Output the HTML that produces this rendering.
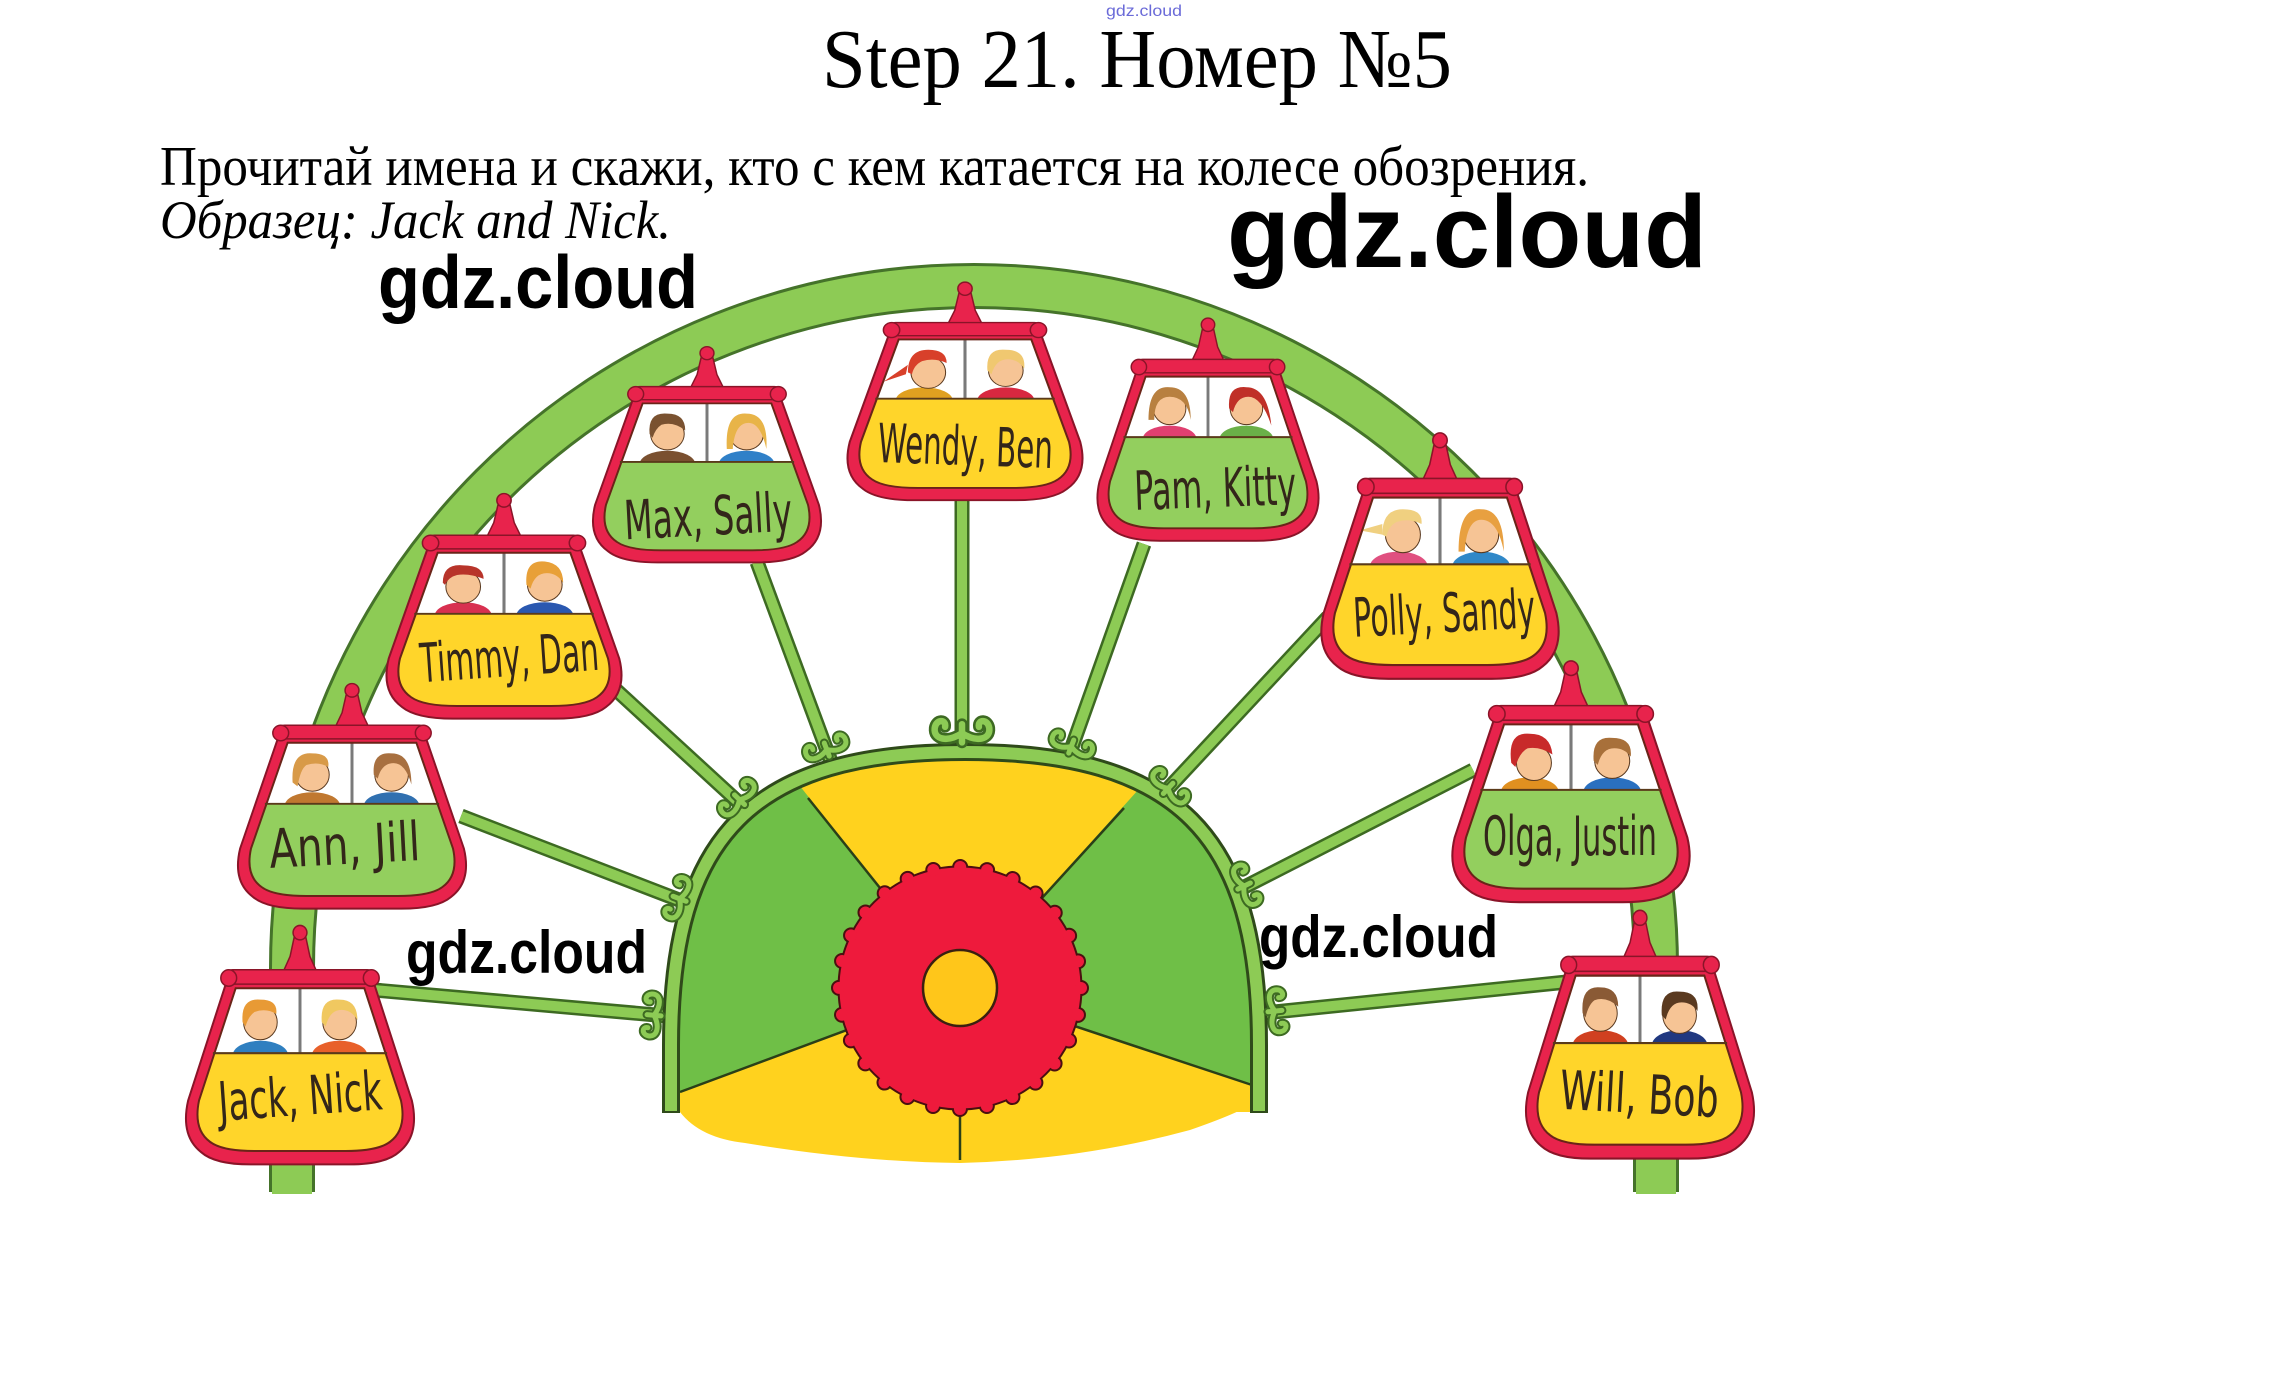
<!DOCTYPE html>
<html><head><meta charset="utf-8"><style>
html,body{margin:0;padding:0;background:#fff;}
svg{display:block;}
</style></head><body>
<svg width="2288" height="1396" viewBox="0 0 2288 1396" xmlns="http://www.w3.org/2000/svg">
<defs>
  <clipPath id="gin"><path d="M -65,9 L 65,9 L 102,118 Q 108,146 91,158 Q 79,167 46,167 L -46,167 Q -79,167 -91,158 Q -108,146 -102,118 Z"/></clipPath>
  <clipPath id="domeclip"><path d="M 671,1112 L 671,1045 C 671,835 753,752 965,752 C 1177,752 1259,835 1259,1045 L 1259,1112 Z"/></clipPath>
  <g id="scr" fill="none" stroke-linecap="round" stroke-linejoin="round">
    <path d="M0,-2 L0,-16 M -21,-13 C -22,-4 -11,-2 0,-9 C 11,-2 22,-4 21,-13 M -21,-13 C -20,-20 -12,-20 -13,-14 M 21,-13 C 20,-20 12,-20 13,-14" stroke="#3d6a22" stroke-width="9"/>
    <path d="M0,-2 L0,-16 M -21,-13 C -22,-4 -11,-2 0,-9 C 11,-2 22,-4 21,-13 M -21,-13 C -20,-20 -12,-20 -13,-14 M 21,-13 C 20,-20 12,-20 13,-14" stroke="#8dcb55" stroke-width="5"/>
  </g>
  <g id="gtop">
    <line x1="0" y1="9" x2="0" y2="72" stroke="#7a7a7a" stroke-width="3"/>
    <path d="M -65,9 L 65,9 L 102,118 Q 108,146 91,158 Q 79,167 46,167 L -46,167 Q -79,167 -91,158 Q -108,146 -102,118 Z" fill="none" stroke="#6a2418" stroke-width="2"/>
    <line x1="-88" y1="72" x2="88" y2="72" stroke="#5a3a1a" stroke-width="2"/>
    <path d="M -6,-40 L 6,-40 L 10,-22 L 17,-7 L -17,-7 L -10,-22 Z" fill="#e8234c" stroke="#8a1428" stroke-width="1.5"/>
    <circle cx="0" cy="-45" r="7" fill="#e8234c" stroke="#8a1428" stroke-width="1.5"/>
    <rect x="-74" y="-9" width="148" height="14" rx="6" fill="#e8234c" stroke="#8a1428" stroke-width="1.5"/>
    <circle cx="-72" cy="-1" r="8" fill="#e8234c" stroke="#8a1428" stroke-width="1.5"/>
    <circle cx="72" cy="-1" r="8" fill="#e8234c" stroke="#8a1428" stroke-width="1.5"/>
  </g>
  <path id="gout" d="M -74,2 L 74,2 L 113,118 Q 121,152 100,168 Q 86,180 50,180 L -50,180 Q -86,180 -100,168 Q -121,152 -113,118 Z"/>
</defs>

<rect width="2288" height="1396" fill="#fff"/>

<!-- arch -->
<path d="M 292,1192 L 292,968 A 682 682 0 0 1 1656,968 L 1656,1192" fill="none" stroke="#45732a" stroke-width="46"/>
<path d="M 292,1194 L 292,968 A 682 682 0 0 1 1656,968 L 1656,1194" fill="none" stroke="#8dcb55" stroke-width="40"/>

<!-- spokes -->
<g stroke-linecap="butt">
  <g stroke="#3d6a22" stroke-width="15">
    <line x1="374" y1="990" x2="690" y2="1018"/>
    <line x1="461" y1="816" x2="705" y2="910"/>
    <line x1="614" y1="688" x2="760" y2="822"/>
    <line x1="757" y1="562" x2="836" y2="775"/>
    <line x1="962" y1="495" x2="962" y2="770"/>
    <line x1="1144" y1="544" x2="1062" y2="775"/>
    <line x1="1328" y1="617" x2="1150" y2="808"/>
    <line x1="1473" y1="770" x2="1225" y2="897"/>
    <line x1="1567" y1="982" x2="1245" y2="1015"/>
  </g>
  <g stroke="#8dcb55" stroke-width="10">
    <line x1="374" y1="990" x2="690" y2="1018"/>
    <line x1="461" y1="816" x2="705" y2="910"/>
    <line x1="614" y1="688" x2="760" y2="822"/>
    <line x1="757" y1="562" x2="836" y2="775"/>
    <line x1="962" y1="495" x2="962" y2="770"/>
    <line x1="1144" y1="544" x2="1062" y2="775"/>
    <line x1="1328" y1="617" x2="1150" y2="808"/>
    <line x1="1473" y1="770" x2="1225" y2="897"/>
    <line x1="1567" y1="982" x2="1245" y2="1015"/>
  </g>
</g>

<!-- dome -->
<path d="M 960,988 L 680,1092 L 680,1112 Q 700,1138 745,1143 Q 860,1162 960,1163 Q 1080,1160 1190,1130 Q 1236,1114 1252,1104 L 1252,1085 Z" fill="#ffd21e"/>
<g clip-path="url(#domeclip)">
  <rect x="650" y="730" width="630" height="400" fill="#6fbf47"/>
  <polygon points="960,988 727,694 960,640 1210,710" fill="#ffd21e"/>
  <polygon points="960,988 640,1107 640,1130 1290,1130 1290,1098" fill="#ffd21e"/>
</g>
<g stroke="#2a3f18" stroke-width="2.5">
  <line x1="960" y1="988" x2="808" y2="798"/>
  <line x1="960" y1="988" x2="1124" y2="808"/>
  <line x1="960" y1="988" x2="680" y2="1092"/>
  <line x1="960" y1="988" x2="1252" y2="1085"/>
  <line x1="960" y1="1110" x2="960" y2="1160"/>
</g>
<path d="M 671,1113 L 671,1045 C 671,835 753,752 965,752 C 1177,752 1259,835 1259,1045 L 1259,1113" fill="none" stroke="#2f4a1a" stroke-width="18"/>
<path d="M 671,1111 L 671,1045 C 671,835 753,752 965,752 C 1177,752 1259,835 1259,1045 L 1259,1111" fill="none" stroke="#8dcb55" stroke-width="12"/>

<!-- gear -->
<circle cx="960" cy="988" r="121" fill="none" stroke="#4a1010" stroke-width="16" stroke-dasharray="0 27.15" stroke-linecap="round"/>
<circle cx="960" cy="988" r="121" fill="none" stroke="#4a1010" stroke-width="3"/>
<circle cx="960" cy="988" r="120.5" fill="#ee1a3c"/>
<circle cx="960" cy="988" r="121" fill="none" stroke="#ee1a3c" stroke-width="12" stroke-dasharray="0 27.15" stroke-linecap="round"/>
<ellipse cx="960" cy="988" rx="37" ry="38" fill="#ffc61a" stroke="#3a2010" stroke-width="2.5"/>

<!-- scrolls -->
<use href="#scr" transform="translate(663,1016) rotate(-85)"/>
<use href="#scr" transform="translate(688,902) rotate(-69)"/>
<use href="#scr" transform="translate(746,806) rotate(-46)"/>
<use href="#scr" transform="translate(830,758) rotate(-21)"/>
<use href="#scr" transform="translate(962,745) scale(1.3)"/>
<use href="#scr" transform="translate(1068,755) rotate(21)"/>
<use href="#scr" transform="translate(1162,795) rotate(43)"/>
<use href="#scr" transform="translate(1236,890) rotate(64)"/>
<use href="#scr" transform="translate(1266,1012) rotate(84)"/>

<!-- gondolas -->
<!-- 1 Jack Nick -->
<g transform="translate(300,979) scale(0.99,1.03)">
  <use href="#gout" fill="#e8234c" stroke="#8a1428" stroke-width="2"/>
  <g clip-path="url(#gin)">
    <rect x="-130" y="0" width="260" height="72" fill="#fff"/>
    <ellipse cx="-40" cy="74" rx="28" ry="14" fill="#2f7fc0"/>
    <circle cx="-40" cy="42" r="17" fill="#f6c495" stroke="#5a3a20" stroke-width="1"/>
    <path d="M -58,42 Q -60,18 -40,20 Q -22,20 -24,34 Q -34,28 -46,32 Q -52,36 -55,46 Z" fill="#e89a35"/>
    <ellipse cx="40" cy="74" rx="28" ry="14" fill="#e8602a"/>
    <circle cx="40" cy="42" r="17" fill="#f6c495" stroke="#5a3a20" stroke-width="1"/>
    <path d="M 22,42 Q 20,18 40,20 Q 58,20 58,40 Q 52,30 42,30 Q 30,30 26,46 Z" fill="#f0c860"/>
    <rect x="-130" y="72" width="260" height="120" fill="#ffd52a"/>
  </g>
  <use href="#gtop"/>
</g>
<!-- 2 Ann Jill -->
<g transform="translate(352,734) scale(0.99,0.97)">
  <use href="#gout" fill="#e8234c" stroke="#8a1428" stroke-width="2"/>
  <g clip-path="url(#gin)">
    <rect x="-130" y="0" width="260" height="72" fill="#fff"/>
    <ellipse cx="-40" cy="74" rx="28" ry="14" fill="#c07830"/>
    <circle cx="-40" cy="42" r="17" fill="#f6c495" stroke="#5a3a20" stroke-width="1"/>
    <path d="M -60,50 Q -62,18 -40,20 Q -22,20 -24,34 Q -34,28 -46,32 Q -52,36 -55,54 Z" fill="#d89a48"/>
    <ellipse cx="40" cy="74" rx="28" ry="14" fill="#3070b0"/>
    <circle cx="40" cy="42" r="17" fill="#f6c495" stroke="#5a3a20" stroke-width="1"/>
    <path d="M 22,42 Q 20,18 40,20 Q 60,20 60,52 Q 54,30 42,30 Q 30,30 26,46 Z" fill="#a87040"/>
    <rect x="-130" y="72" width="260" height="120" fill="#93cf5e"/>
  </g>
  <use href="#gtop"/>
</g>
<!-- 3 Timmy Dan -->
<g transform="translate(504,544) scale(1.02,0.97)">
  <use href="#gout" fill="#e8234c" stroke="#8a1428" stroke-width="2"/>
  <g clip-path="url(#gin)">
    <rect x="-130" y="0" width="260" height="72" fill="#fff"/>
    <ellipse cx="-40" cy="74" rx="28" ry="14" fill="#d83050"/>
    <circle cx="-40" cy="44" r="17" fill="#f6c495" stroke="#5a3a20" stroke-width="1"/>
    <path d="M -60,40 Q -60,20 -40,22 Q -20,22 -20,36 Q -34,30 -46,32 Q -54,34 -58,42 Z" fill="#b8342a"/>
    <ellipse cx="40" cy="74" rx="28" ry="14" fill="#2a58b0"/>
    <circle cx="40" cy="42" r="17" fill="#f6c495" stroke="#5a3a20" stroke-width="1"/>
    <path d="M 22,42 Q 20,16 40,18 Q 58,20 58,40 Q 52,30 42,30 Q 30,30 26,46 Z" fill="#e8a038"/>
    <rect x="-130" y="72" width="260" height="120" fill="#ffd52a"/>
  </g>
  <use href="#gtop"/>
</g>
<!-- 4 Max Sally -->
<g transform="translate(707,395) scale(0.99,0.93)">
  <use href="#gout" fill="#e8234c" stroke="#8a1428" stroke-width="2"/>
  <g clip-path="url(#gin)">
    <rect x="-130" y="0" width="260" height="72" fill="#fff"/>
    <ellipse cx="-40" cy="74" rx="28" ry="14" fill="#7a5030"/>
    <circle cx="-40" cy="42" r="17" fill="#f6c495" stroke="#5a3a20" stroke-width="1"/>
    <path d="M -58,42 Q -60,18 -40,20 Q -22,20 -22,38 Q -34,28 -46,32 Q -52,36 -55,46 Z" fill="#7a5230"/>
    <ellipse cx="40" cy="74" rx="28" ry="14" fill="#2f80c8"/>
    <circle cx="40" cy="42" r="17" fill="#f6c495" stroke="#5a3a20" stroke-width="1"/>
    <path d="M 20,58 Q 18,18 40,20 Q 62,20 60,58 Q 54,30 42,30 Q 28,30 26,58 Z" fill="#e8b448"/>
    <rect x="-130" y="72" width="260" height="120" fill="#93cf5e"/>
  </g>
  <use href="#gtop"/>
</g>
<!-- 5 Wendy Ben -->
<g transform="translate(965,331) scale(1.02,0.94)">
  <use href="#gout" fill="#e8234c" stroke="#8a1428" stroke-width="2"/>
  <g clip-path="url(#gin)">
    <rect x="-130" y="0" width="260" height="72" fill="#fff"/>
    <ellipse cx="-40" cy="74" rx="28" ry="14" fill="#e0a020"/>
    <circle cx="-36" cy="44" r="17" fill="#f6c495" stroke="#5a3a20" stroke-width="1"/>
    <path d="M -56,44 Q -56,20 -36,20 Q -18,20 -18,34 Q -30,28 -42,32 Q -50,36 -52,46 Z M -56,36 L -80,54 L -58,46 Z" fill="#d8402a"/>
    <ellipse cx="40" cy="74" rx="28" ry="14" fill="#d82840"/>
    <circle cx="40" cy="42" r="17" fill="#f6c495" stroke="#5a3a20" stroke-width="1"/>
    <path d="M 22,42 Q 20,18 40,20 Q 60,20 58,40 Q 52,30 42,30 Q 30,30 26,46 Z" fill="#f0c870"/>
    <rect x="-130" y="72" width="260" height="120" fill="#ffd52a"/>
  </g>
  <use href="#gtop"/>
</g>
<!-- 6 Pam Kitty -->
<g transform="translate(1208,368) scale(0.96,0.96)">
  <use href="#gout" fill="#e8234c" stroke="#8a1428" stroke-width="2"/>
  <g clip-path="url(#gin)">
    <rect x="-130" y="0" width="260" height="72" fill="#fff"/>
    <ellipse cx="-40" cy="74" rx="28" ry="14" fill="#e04070"/>
    <circle cx="-40" cy="42" r="17" fill="#f6c495" stroke="#5a3a20" stroke-width="1"/>
    <path d="M -62,54 Q -62,18 -40,20 Q -18,20 -18,54 Q -22,30 -40,30 Q -56,30 -56,54 Z" fill="#b88040"/>
    <ellipse cx="40" cy="74" rx="28" ry="14" fill="#6ab048"/>
    <circle cx="40" cy="42" r="17" fill="#f6c495" stroke="#5a3a20" stroke-width="1"/>
    <path d="M 22,42 Q 20,18 40,20 Q 62,20 66,60 Q 56,30 42,30 Q 30,30 26,46 Z" fill="#c03028"/>
    <rect x="-130" y="72" width="260" height="120" fill="#93cf5e"/>
  </g>
  <use href="#gtop"/>
</g>
<!-- 7 Polly Sandy -->
<g transform="translate(1440,488) scale(1.03,1.06)">
  <use href="#gout" fill="#e8234c" stroke="#8a1428" stroke-width="2"/>
  <g clip-path="url(#gin)">
    <rect x="-130" y="0" width="260" height="72" fill="#fff"/>
    <ellipse cx="-40" cy="74" rx="28" ry="14" fill="#e05080"/>
    <circle cx="-36" cy="44" r="17" fill="#f6c495" stroke="#5a3a20" stroke-width="1"/>
    <path d="M -56,44 Q -56,20 -36,20 Q -16,20 -18,34 Q -30,28 -42,32 Q -50,36 -52,46 Z M -56,34 L -78,40 L -56,44 Z" fill="#f0d080"/>
    <ellipse cx="40" cy="74" rx="28" ry="14" fill="#3088c8"/>
    <circle cx="40" cy="44" r="17" fill="#f6c495" stroke="#5a3a20" stroke-width="1"/>
    <path d="M 18,60 Q 18,18 40,20 Q 62,20 62,60 Q 56,30 40,30 Q 26,30 24,60 Z" fill="#e8a040"/>
    <rect x="-130" y="72" width="260" height="120" fill="#ffd52a"/>
  </g>
  <use href="#gtop"/>
</g>
<!-- 8 Olga Justin -->
<g transform="translate(1571,715) scale(1.03,1.04)">
  <use href="#gout" fill="#e8234c" stroke="#8a1428" stroke-width="2"/>
  <g clip-path="url(#gin)">
    <rect x="-130" y="0" width="260" height="72" fill="#fff"/>
    <ellipse cx="-40" cy="74" rx="28" ry="14" fill="#e09020"/>
    <circle cx="-36" cy="46" r="17" fill="#f6c495" stroke="#5a3a20" stroke-width="1"/>
    <path d="M -58,46 Q -62,16 -40,18 Q -20,18 -18,38 Q -30,30 -42,32 Q -50,36 -54,50 Z" fill="#c82a2a"/>
    <ellipse cx="40" cy="74" rx="28" ry="14" fill="#2a70c0"/>
    <circle cx="40" cy="44" r="17" fill="#f6c495" stroke="#5a3a20" stroke-width="1"/>
    <path d="M 22,44 Q 20,20 40,22 Q 60,22 58,40 Q 52,32 42,32 Q 30,32 26,48 Z" fill="#a8703a"/>
    <rect x="-130" y="72" width="260" height="120" fill="#93cf5e"/>
  </g>
  <use href="#gtop"/>
</g>
<!-- 9 Will Bob -->
<g transform="translate(1640,966) scale(0.99,1.07)">
  <use href="#gout" fill="#e8234c" stroke="#8a1428" stroke-width="2"/>
  <g clip-path="url(#gin)">
    <rect x="-130" y="0" width="260" height="72" fill="#fff"/>
    <ellipse cx="-40" cy="74" rx="28" ry="14" fill="#d04020"/>
    <circle cx="-40" cy="44" r="17" fill="#f6c495" stroke="#5a3a20" stroke-width="1"/>
    <path d="M -58,44 Q -60,18 -40,20 Q -22,20 -22,38 Q -34,28 -46,32 Q -52,36 -55,48 Z" fill="#8a5a35"/>
    <ellipse cx="40" cy="74" rx="28" ry="14" fill="#203880"/>
    <circle cx="40" cy="46" r="17" fill="#f6c495" stroke="#5a3a20" stroke-width="1"/>
    <path d="M 22,46 Q 20,22 40,24 Q 60,24 58,42 Q 52,34 42,34 Q 30,34 26,50 Z" fill="#5a3a20"/>
    <rect x="-130" y="72" width="260" height="120" fill="#ffd52a"/>
  </g>
  <use href="#gtop"/>
</g>

<!-- gondola labels -->
<g font-family="'DejaVu Sans', 'Liberation Sans', sans-serif" font-size="54" fill="#33261a">
  <text x="218" y="1115" textLength="164" lengthAdjust="spacingAndGlyphs" transform="rotate(-4 300 1095)">Jack, Nick</text>
  <text x="269" y="864" textLength="151" lengthAdjust="spacingAndGlyphs" transform="rotate(-3 344 845)">Ann, Jill</text>
  <text x="420" y="676" textLength="179" lengthAdjust="spacingAndGlyphs" transform="rotate(-4 510 660)">Timmy, Dan</text>
  <text x="624" y="535" textLength="168" lengthAdjust="spacingAndGlyphs" transform="rotate(-3 708 515)">Max, Sally</text>
  <text x="878" y="465" textLength="175" lengthAdjust="spacingAndGlyphs" transform="rotate(2 965 445)">Wendy, Ben</text>
  <text x="1134" y="507" textLength="162" lengthAdjust="spacingAndGlyphs" transform="rotate(-2 1215 485)">Pam, Kitty</text>
  <text x="1353" y="632" textLength="182" lengthAdjust="spacingAndGlyphs" transform="rotate(-3 1444 610)">Polly, Sandy</text>
  <text x="1483" y="855" textLength="174" lengthAdjust="spacingAndGlyphs">Olga, Justin</text>
  <text x="1560" y="1113" textLength="159" lengthAdjust="spacingAndGlyphs" transform="rotate(3 1640 1092)">Will, Bob</text>
</g>

<!-- header texts -->
<text x="1106" y="16" font-family="'Liberation Sans', sans-serif" font-size="16" fill="#6a6ad8" textLength="76" lengthAdjust="spacingAndGlyphs">gdz.cloud</text>
<text x="822" y="87" font-family="'Liberation Serif', 'Noto Serif CJK SC', serif" font-size="84" fill="#000" textLength="630" lengthAdjust="spacingAndGlyphs">Step 21. Номер №5</text>
<text x="160" y="185" font-family="'Liberation Serif', 'Noto Serif CJK SC', serif" font-size="56" fill="#000" textLength="1429" lengthAdjust="spacingAndGlyphs">Прочитай имена и скажи, кто с кем катается на колесе обозрения.</text>
<text x="160" y="238" font-family="'Liberation Serif', 'Noto Serif CJK SC', serif" font-style="italic" font-size="54" fill="#000" textLength="511" lengthAdjust="spacingAndGlyphs">Образец: Jack and Nick.</text>

<!-- watermarks -->
<g font-family="'Liberation Sans', sans-serif" font-weight="bold" fill="#000">
  <text x="1227" y="267" font-size="103" textLength="480" lengthAdjust="spacingAndGlyphs">gdz.cloud</text>
  <text x="378" y="308" font-size="75" textLength="320" lengthAdjust="spacingAndGlyphs">gdz.cloud</text>
  <text x="406" y="973" font-size="60" textLength="241" lengthAdjust="spacingAndGlyphs">gdz.cloud</text>
  <text x="1259" y="957" font-size="59" textLength="239" lengthAdjust="spacingAndGlyphs">gdz.cloud</text>
</g>
</svg>
</body></html>
